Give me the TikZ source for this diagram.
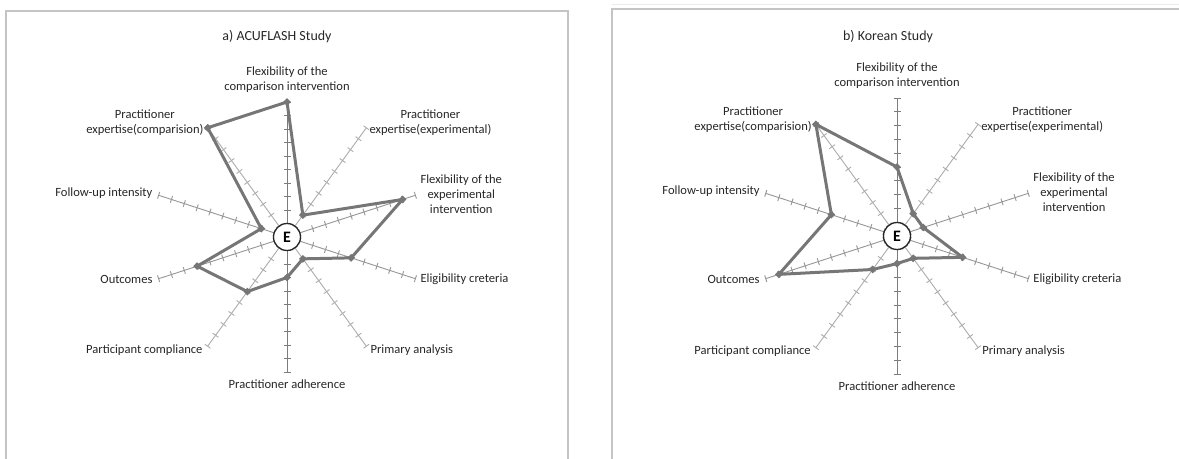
\documentclass[tikz,border=0pt]{standalone}
\usepackage{fontspec}
\setmainfont{Carlito}
\usetikzlibrary{shapes.geometric}
\definecolor{framegray}{RGB}{196,196,196}
\definecolor{axisgray}{RGB}{125,125,125}
\definecolor{midgray}{RGB}{150,150,150}
\definecolor{spokegray}{RGB}{172,172,172}
\definecolor{seriesgray}{RGB}{118,118,118}
\definecolor{inkgray}{RGB}{38,38,38}
\begin{document}
\begin{tikzpicture}[x=1bp,y=-1bp]
\useasboundingbox (0,0) rectangle (1179,459);
\tikzstyle{lab}=[text=inkgray,font=\fontsize{12.6}{15}\selectfont,align=center,inner sep=1bp]
\tikzstyle{ttl}=[text=inkgray,font=\fontsize{14}{16}\selectfont,inner sep=1bp]
\tikzstyle{hub}=[circle,draw=inkgray,line width=1.3bp,fill=white,minimum size=27bp,inner sep=0pt,font=\fontsize{16}{16}\selectfont\bfseries]
\tikzstyle{series}=[draw=seriesgray,line width=3bp,line join=round]
\tikzstyle{dot}=[diamond,fill=seriesgray,inner sep=0pt,minimum size=8bp]
% panel frames
\draw[framegray,line width=1.5bp] (6,459) -- (6,11) -- (568,11) -- (568,459);
\draw[framegray,line width=1.5bp] (612,459) -- (612,9) -- (1179,9);
\draw[black!8] (612,4) -- (1179,4);
\node[ttl] (atitle) at (277,37) {a) ACUFLASH Study};
\node[ttl] (btitle) at (888,37) {b) Korean Study};
\foreach \ch/\cx/\cy/\R/\vals in {a/287/237/135/{10,2,9,5,2,3,5,7,2,10},b/897/236/138/{5,2,2,5,2,2,3,9,5,10}}{
  \begin{scope}[shift={(\cx,\cy)},yscale=-1]
    % spokes, one tick per unit
    \foreach \k/\col in {0/axisgray,1/spokegray,2/midgray,3/midgray,4/spokegray,5/axisgray,6/spokegray,7/midgray,8/midgray,9/spokegray}{
      \draw[\col,line width=0.9bp,rotate=90-36*\k] (0,0) -- (\R,0);
      \foreach \t in {1,...,10}
        \draw[\col,line width=0.9bp,rotate=90-36*\k] (\t*\R/10,-3.5) -- (\t*\R/10,3.5);
      \coordinate (\ch e\k) at (90-36*\k:\R);
    }
    \foreach \v [count=\k from 0] in \vals
      \coordinate (\ch d\k) at (90-36*\k:\v*\R/10);
  \end{scope}
  \node[hub] (\ch hub) at (\cx,\cy) {E};
  \draw[series] (\ch d0) \foreach \k in {1,...,9}{ -- (\ch d\k)} -- cycle;
  \foreach \k in {0,...,9} \node[dot] (\ch m\k) at (\ch d\k) {};
  % axis labels
  \foreach \k/\anc/\dx/\dy/\txt in {0/south/0/-8/{Flexibility of the\\comparison intervention},
      1/west/2/-5/{Practitioner\\expertise(experimental)},
      2/west/4/-1.5/{Flexibility of the\\experimental\\intervention},
      3/west/4/1/{Eligibility creteria},
      4/west/3/4/{Primary analysis},
      5/north/0/7/{Practitioner adherence},
      6/east/-4/4/{Participant compliance},
      7/east/-5/1/{Outcomes},
      8/east/-5/-2/{Follow-up intensity},
      9/east/-3/-5/{Practitioner\\expertise(comparision)}}
    \node[lab,anchor=\anc] (\ch l\k) at ([shift={(\dx,\dy)}]\ch e\k) {\txt};
}
\end{tikzpicture}
\end{document}
